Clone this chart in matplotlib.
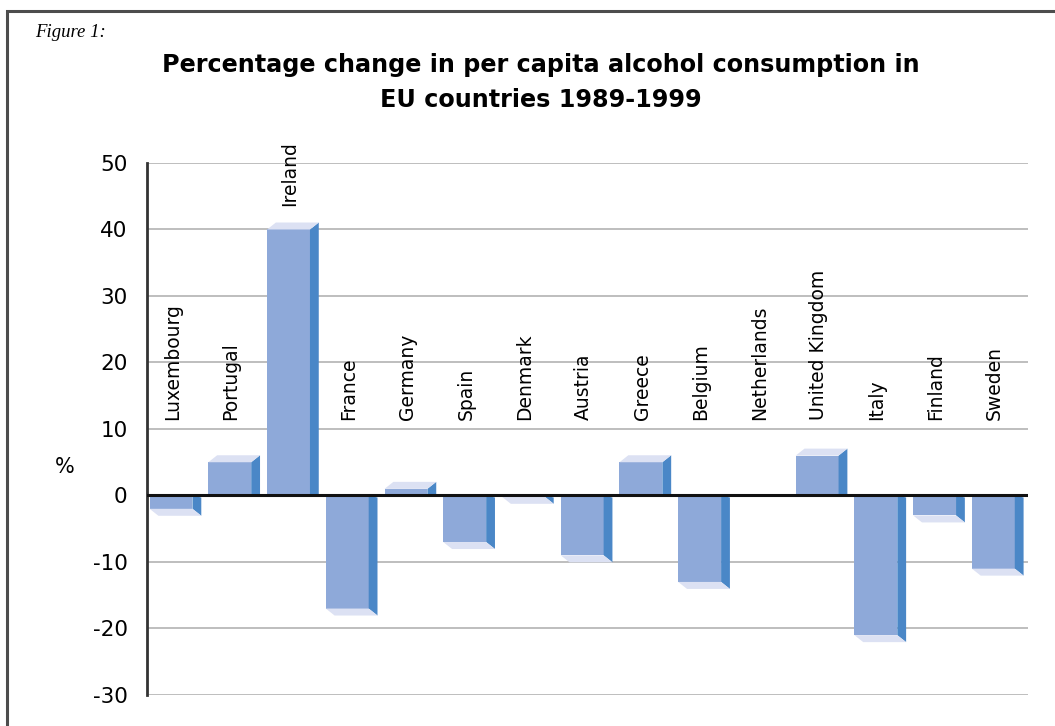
import matplotlib.pyplot as plt
import numpy as np
from matplotlib.patches import Rectangle

plt.rcParams['axes.unicode_minus'] = False

countries = ['Luxembourg', 'Portugal', 'Ireland', 'France', 'Germany', 'Spain',
             'Denmark', 'Austria', 'Greece', 'Belgium', 'Netherlands',
             'United Kingdom', 'Italy', 'Finland', 'Sweden']
change = [-2, 5, 40, -17, 1, -7, -0.2, -9, 5, -13, 0, 6, -21, -3, -11]
yticks = [-30, -20, -10, 0, 10, 20, 30, 40, 50]

front_col = '#8EA9D9'
side_col = '#4A87C7'
cap_col = '#DCE1F3'

fig = plt.figure(figsize=(10.55, 7.26), dpi=100)
ax = fig.add_axes([0.1393, 0.0427, 0.8351, 0.7328])

# frame around the figure (only top and left edges are visible in the scan)
fig.patches.append(Rectangle((7 / 1055, -0.1), 1.2, 1.1 - 11 / 726,
                             transform=fig.transFigure, fill=False,
                             edgecolor='#4d4d4d', linewidth=2.2))

ax.set_xlim(0, len(countries))
ax.set_ylim(-30, 50)
ax.set_yticks(yticks)
ax.set_xticks([])
ax.yaxis.grid(True, color='#b3b3b3', linewidth=1.2)
ax.set_axisbelow(True)
for s in ['top', 'right', 'bottom']:
    ax.spines[s].set_visible(False)
ax.spines['left'].set_color('#333333')
ax.spines['left'].set_linewidth(2)
ax.tick_params(axis='y', length=0, pad=14, labelsize=15.5)

# bar geometry in slot units: offset, front width, depth
off, w, dx, dy = 0.045, 0.73, 0.15, 1.05
x = np.arange(len(countries))
for i, v in enumerate(change):
    if v == 0:
        continue
    x0 = x[i] + off
    x1 = x0 + w
    s = 1 if v > 0 else -1
    ax.bar(x0, v, width=w, align='edge', color=front_col, zorder=3, linewidth=0)
    ax.fill([x1, x1, x1 + dx, x1 + dx], [0, v, v + s * dy, 0 if s > 0 else -0.3],
            color=side_col, zorder=3, linewidth=0)
    ax.fill([x0, x1, x1 + dx, x0 + dx], [v, v, v + s * dy, v + s * dy],
            color=cap_col, zorder=3, linewidth=0)

ax.axhline(0, color='#111111', linewidth=2.2, zorder=4)

# country names, rotated, sitting above the bars
for i, name in enumerate(countries):
    ly = max(11.3, change[i] + 3.6)
    ax.text(x[i] + off + w / 2 + 0.02, ly, name, rotation=90, ha='center', va='bottom',
            fontsize=13.5, zorder=5)

ax.text(-1.4, 4.3, '%', fontsize=15, ha='center', va='center')

fig.text(0.513, 0.91, 'Percentage change in per capita alcohol consumption in',
         ha='center', va='center', fontsize=17.2, fontweight='bold')
fig.text(0.513, 0.862, 'EU countries 1989-1999',
         ha='center', va='center', fontsize=17.2, fontweight='bold')
fig.text(0.033, 0.955, 'Figure 1:', fontsize=13.5, style='italic',
         family='Liberation Serif', ha='left', va='center')

fig.savefig('out.png', dpi=100)
